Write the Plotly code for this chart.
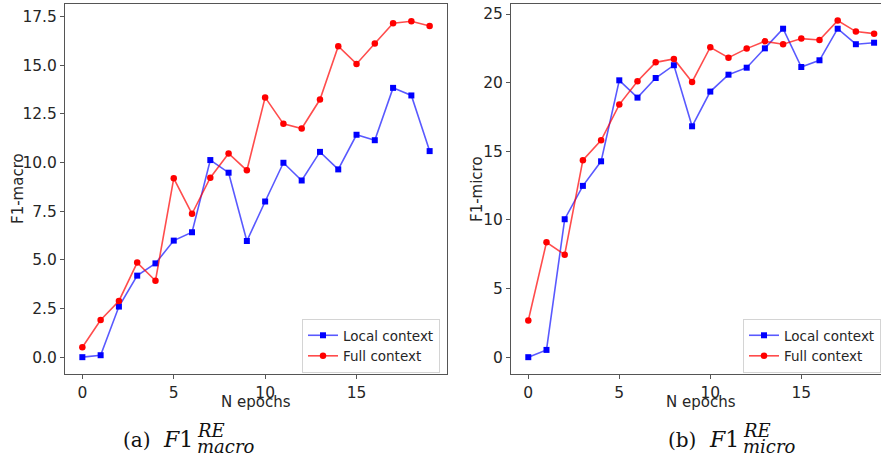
import plotly.graph_objects as go

epochs = list(range(20))

macro_local = [0.0, 0.1, 2.6, 4.19, 4.82, 5.99, 6.42, 10.13, 9.48, 5.97,
               8.0, 9.99, 9.08, 10.55, 9.65, 11.43, 11.15, 13.84, 13.45, 10.59]
macro_full = [0.51, 1.91, 2.89, 4.86, 3.93, 9.19, 7.37, 9.22, 10.47, 9.6,
              13.35, 11.99, 11.75, 13.24, 15.98, 15.07, 16.12, 17.16, 17.26, 17.02]

micro_local = [0.0, 0.53, 10.05, 12.48, 14.27, 20.17, 18.91, 20.34, 21.27, 16.82,
               19.35, 20.58, 21.09, 22.5, 23.93, 21.14, 21.63, 23.93, 22.8, 22.91]
micro_full = [2.67, 8.37, 7.47, 14.35, 15.8, 18.4, 20.1, 21.48, 21.73, 20.05,
              22.58, 21.82, 22.48, 23.01, 22.8, 23.21, 23.11, 24.52, 23.72, 23.57]

series_names = ["Local context", "Full context"]
y_titles = ["F1-macro", "F1-micro"]
x_title = "N epochs"

W, H = 881, 464
BLUE_LINE = "rgba(0,0,255,0.65)"
RED_LINE = "rgba(255,0,0,0.7)"
AX = "#555555"
TXT = "#262626"
TICKF = dict(family="DejaVu Sans", size=15.5, color=TXT)

fig = go.Figure()

def add_pair(local, full, xa, ya, legend):
    fig.add_trace(go.Scatter(x=epochs, y=local, mode="lines+markers", name=series_names[0],
                             line=dict(color=BLUE_LINE, width=1.6),
                             marker=dict(color="blue", symbol="square", size=6),
                             xaxis=xa, yaxis=ya, legend=legend))
    fig.add_trace(go.Scatter(x=epochs, y=full, mode="lines+markers", name=series_names[1],
                             line=dict(color=RED_LINE, width=1.6),
                             marker=dict(color="red", symbol="circle", size=6.5),
                             xaxis=xa, yaxis=ya, legend=legend))

add_pair(macro_local, macro_full, "x", "y", "legend")
add_pair(micro_local, micro_full, "x2", "y2", "legend2")

def px(v):
    return min(max(v / W, 0.0), 1.0)

def py(v):
    return min(max((H - v) / H, 0.0), 1.0)

ydom = [py(374), py(4)]

common_x = dict(showgrid=False, zeroline=False, showline=True, linecolor=AX, linewidth=1,
                ticks="outside", ticklen=4, tickcolor=AX, tickwidth=1, tickfont=TICKF,
                dtick=5, tick0=0)
common_y = dict(showgrid=False, zeroline=False, showline=True, linecolor=AX, linewidth=1,
                ticks="outside", ticklen=4, tickcolor=AX, tickwidth=1, tickfont=TICKF)

leg_font = dict(family="DejaVu Sans", size=13.5, color=TXT)
fig.update_layout(
    width=W, height=H,
    margin=dict(l=0, r=0, t=0, b=0, autoexpand=False),
    paper_bgcolor="white", plot_bgcolor="white",
    xaxis=dict(common_x, domain=[px(65), px(447)], range=[-0.95, 19.95], mirror=True, anchor="y"),
    yaxis=dict(common_y, domain=ydom, range=[-0.865, 18.15], dtick=2.5, tick0=0,
               tickformat=".1f", mirror=True, anchor="x"),
    xaxis2=dict(common_x, domain=[px(511), 1.0], range=[-0.95, 19.38], mirror=True, anchor="y2"),
    yaxis2=dict(common_y, domain=ydom, range=[-1.225, 25.73], dtick=5, tick0=0,
                mirror=False, anchor="x2"),
    legend=dict(x=px(440), y=py(346), xanchor="right", yanchor="middle",
                bgcolor="white", bordercolor="#d4d4d4", borderwidth=1, font=leg_font),
    legend2=dict(x=px(743), y=py(346), xanchor="left", yanchor="middle",
                 bgcolor="white", bordercolor="#d4d4d4", borderwidth=1, font=leg_font),
    showlegend=True,
)

ann = []
# axis titles
lab_font = dict(family="DejaVu Sans", size=15, color=TXT)
ann.append(dict(text=x_title, x=px(256), y=py(402), xref="paper", yref="paper",
                showarrow=False, font=lab_font, xanchor="center", yanchor="middle"))
ann.append(dict(text=x_title, x=px(701), y=py(402), xref="paper", yref="paper",
                showarrow=False, font=lab_font, xanchor="center", yanchor="middle"))
ann.append(dict(text=y_titles[0], x=px(18), y=py(189), xref="paper", yref="paper",
                showarrow=False, font=lab_font, textangle=-90, xanchor="center", yanchor="middle"))
ann.append(dict(text=y_titles[1], x=px(477), y=py(189), xref="paper", yref="paper",
                showarrow=False, font=lab_font, textangle=-90, xanchor="center", yanchor="middle"))

# captions
cap_paren = dict(family="DejaVu Serif", size=20, color="#111111")
cap_main = dict(family="DejaVu Serif", size=22, color="#111111")
cap_small = dict(family="DejaVu Serif", size=18, color="#111111")
captions = [("(a)", "macro", 121, 161, 195), ("(b)", "micro", 666, 707, 741)]
for label, sub, xlab, xf, xs in captions:
    ann.append(dict(text=label, x=px(xlab), y=py(440), xref="paper", yref="paper",
                    showarrow=False, font=cap_paren, xanchor="left", yanchor="middle"))
    ann.append(dict(text="<i>F</i>1", x=px(xf), y=py(439), xref="paper", yref="paper",
                    showarrow=False, font=cap_main, xanchor="left", yanchor="middle"))
    ann.append(dict(text="<i>RE</i>", x=px(xs), y=py(430), xref="paper", yref="paper",
                    showarrow=False, font=cap_small, xanchor="left", yanchor="middle"))
    ann.append(dict(text="<i>" + sub + "</i>", x=px(xs), y=py(446), xref="paper", yref="paper",
                    showarrow=False, font=cap_small, xanchor="left", yanchor="middle"))

fig.update_layout(annotations=ann)

fig.write_html("out.html", config={"displayModeBar": False},
               post_script="document.body.style.margin='0';document.body.style.overflow='hidden';")
